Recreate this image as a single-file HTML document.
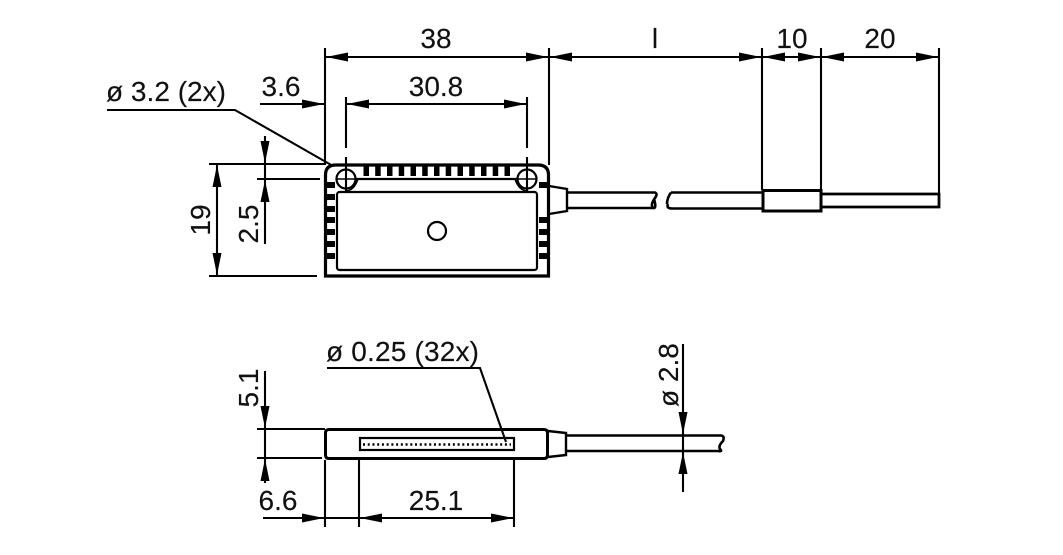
<!DOCTYPE html>
<html><head><meta charset="utf-8"><style>
html,body{margin:0;padding:0;background:#fff}
svg{display:block}
text{font-family:"Liberation Sans",sans-serif;font-size:28px;fill:#111;stroke:#111;stroke-width:.15px}
</style></head><body>
<svg width="1063" height="555" viewBox="0 0 1063 555" xmlns="http://www.w3.org/2000/svg">
<defs>
<path id="a" d="M0 0L22 -4.500V4.500Z" fill="#000"/>
</defs>
<g fill="none" stroke="#000" stroke-width="2.100">
<!-- top dims -->
<path d="M325 48V165M549 48V165M762 48V190M821 48V190M939 48V194"/>
<path d="M325 57H939"/>
<path d="M260 104H325M346 97V148M346 157V191M527 97V148M527 157V191M346 104H527"/>
<path d="M107 110H235L333 166"/>
<path d="M209 164H325M257 179H320M209 276H317"/>
<path d="M217 164V276M265 136V244"/>
<!-- bottom dims -->
<path d="M327 368H480L506 442"/>
<path d="M257 429H325M257 458H322"/>
<path d="M265 371V483"/>
<path d="M325 460V527M359 460V527M514 460V527M263 518H514"/>
<path d="M683 344V492"/>
</g>
<g>
<use href="#a" transform="translate(326 57)"/>
<use href="#a" transform="translate(548 57) rotate(180)"/>
<use href="#a" transform="translate(550 57)"/>
<use href="#a" transform="translate(761 57) rotate(180)"/>
<use href="#a" transform="translate(763 57)"/>
<use href="#a" transform="translate(820 57) rotate(180)"/>
<use href="#a" transform="translate(822 57)"/>
<use href="#a" transform="translate(938 57) rotate(180)"/>
<use href="#a" transform="translate(324 104) rotate(180)"/>
<use href="#a" transform="translate(347 104)"/>
<use href="#a" transform="translate(526 104) rotate(180)"/>
<use href="#a" transform="translate(217 165) rotate(90)"/>
<use href="#a" transform="translate(217 275) rotate(-90)"/>
<use href="#a" transform="translate(265 163) rotate(-90)"/>
<use href="#a" transform="translate(265 180) rotate(90)"/>
<use href="#a" transform="translate(265 428) rotate(-90)"/>
<use href="#a" transform="translate(265 459) rotate(90)"/>
<use href="#a" transform="translate(324 518) rotate(180)"/>
<use href="#a" transform="translate(360 518)"/>
<use href="#a" transform="translate(513 518) rotate(180)"/>
<use href="#a" transform="translate(683 434) rotate(-90)"/>
<use href="#a" transform="translate(683 452) rotate(90)"/>
</g>
<!-- top body -->
<g fill="none" stroke="#000">
<path d="M325.500 276V175Q325.500 165 336 165H538Q548.500 165 548.500 175V276Z" stroke-width="3.200"/>
<rect x="337" y="192" width="200" height="78" rx="2.500" stroke-width="2.200"/>
<path d="M355 179H518" stroke-width="2.200"/>
<circle cx="346" cy="179" r="9.500" stroke-width="2.200"/>
<circle cx="527" cy="179" r="9.500" stroke-width="2.200"/>
<path d="M345 191Q354 191 358 179M528 191Q519 191 515 179" stroke-width="1.600"/>
<path d="M337 179H355M346 170V188M518 179H536" stroke-width="1.400"/>
<circle cx="437" cy="231" r="9" stroke-width="2.200"/>
<path d="M549 186L567 189V211L549 214" stroke-width="2.400"/>
<path d="M567 192.500H655Q658 194 655 198Q650 205 653 208Q657 209 654 199M567 208H654" stroke-width="2.600"/>
<path d="M671 192.500H762M668 204Q666 208.500 672 208.500H762M671 192.500Q667 198 667 204" stroke-width="2.600"/>
<rect x="763" y="190.500" width="58" height="20.500" stroke-width="3"/>
<path d="M821 194H939V207H821" stroke-width="2.800"/>
</g>
<g fill="#000">
<rect x="363.500" y="165" width="5.500" height="11"/><rect x="375.200" y="165" width="5.500" height="11"/><rect x="387" y="165" width="5.500" height="11"/><rect x="398.700" y="165" width="5.500" height="11"/><rect x="410.500" y="165" width="5.500" height="11"/><rect x="422.200" y="165" width="5.500" height="11"/><rect x="434" y="165" width="5.500" height="11"/><rect x="445.700" y="165" width="5.500" height="11"/><rect x="457.500" y="165" width="5.500" height="11"/><rect x="469.200" y="165" width="5.500" height="11"/><rect x="481" y="165" width="5.500" height="11"/><rect x="492.700" y="165" width="5.500" height="11"/><rect x="504.500" y="165" width="5.500" height="11"/>
<rect x="325" y="182" width="10" height="6"/><rect x="325" y="194" width="10" height="6"/><rect x="325" y="206" width="10" height="6"/><rect x="325" y="217" width="10" height="6"/><rect x="325" y="229" width="10" height="6"/><rect x="325" y="241" width="10" height="6"/><rect x="325" y="253" width="10" height="6"/>
<rect x="539" y="182" width="10" height="6"/><rect x="539" y="217" width="10" height="6"/><rect x="539" y="229" width="10" height="6"/><rect x="539" y="241" width="10" height="6"/><rect x="539" y="253" width="10" height="6"/>
</g>
<!-- bottom body -->
<g fill="none" stroke="#000">
<path d="M329 429.500H544Q547.500 429.500 547.500 433V455Q547.500 458.500 544 458.500H329Q325.500 458.500 325.500 455V433Q325.500 429.500 329 429.500Z" stroke-width="3"/>
<rect x="360" y="438" width="154" height="12" stroke-width="2.200"/>
<path d="M363 444.500H511" stroke-width="2.400" stroke-dasharray="2 2.730"/>
<path d="M548 431L566 433V455L548 457" stroke-width="2.400"/>
<path d="M567 435.500H721Q725 436 723 441Q718 446 720 449Q723 452 718 451H567" stroke-width="2.600"/>
</g>
<!-- labels -->
<text x="436" y="48" text-anchor="middle">38</text>
<text x="655" y="48" text-anchor="middle">l</text>
<text x="792" y="48" text-anchor="middle">10</text>
<text x="880" y="48" text-anchor="middle">20</text>
<text x="281" y="96" text-anchor="middle">3.6</text>
<text x="436" y="96" text-anchor="middle">30.8</text>
<text x="106" y="101" textLength="120">ø 3.2 (2x)</text>
<text x="326" y="361" textLength="153">ø 0.25 (32x)</text>
<text x="278" y="510" text-anchor="middle">6.6</text>
<text x="436" y="510" text-anchor="middle">25.1</text>
<text transform="translate(210 220) rotate(-90)" text-anchor="middle">19</text>
<text transform="translate(258 224) rotate(-90)" text-anchor="middle">2.5</text>
<text transform="translate(258 388) rotate(-90)" text-anchor="middle">5.1</text>
<text transform="translate(678 407) rotate(-90)">ø 2.8</text>
</svg>
</body></html>
